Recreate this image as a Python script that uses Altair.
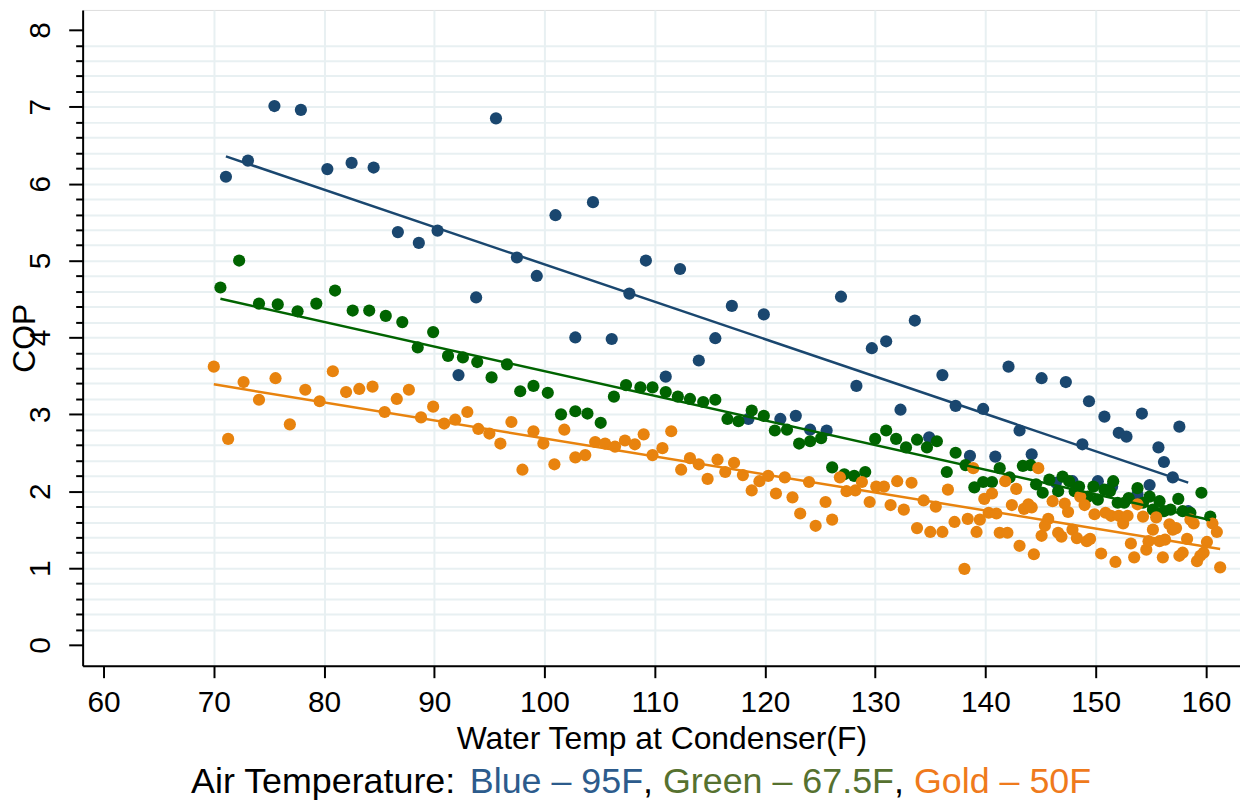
import altair as alt
import pandas as pd

# ---- data ----
blue_x = [71.1, 73.1, 75.5, 77.9, 80.3, 82.5, 84.5, 86.7, 88.6, 90.3, 92.2, 93.8, 95.6, 97.5, 99.3,
          101.0, 102.8, 104.4, 106.1, 107.7, 109.2, 111.0, 112.3, 114.0, 115.5, 117.0, 118.5, 119.9,
          121.4, 122.8, 124.1, 125.6, 126.9, 128.3, 129.7, 131.0, 132.3, 133.6, 134.9, 136.1, 137.3,
          138.6, 139.8, 140.9, 142.1, 143.1, 144.2, 145.1, 146.4, 147.3, 147.9, 148.8, 149.4, 150.2,
          150.8, 151.5, 152.1, 152.8, 153.8, 154.2, 154.9, 155.7, 156.2, 157.0, 157.6, 158.4]
blue_y = [6.09, 6.30, 7.01, 6.96, 6.19, 6.27, 6.21, 5.37, 5.23, 5.39, 3.51, 4.52, 6.85, 5.04, 4.80,
          5.59, 4.00, 5.76, 3.98, 4.57, 5.00, 3.49, 4.89, 3.70, 3.99, 4.41, 2.94, 4.30,
          2.94, 2.98, 2.80, 2.79, 4.53, 3.37, 3.86, 3.95, 3.06, 4.22, 2.70, 3.51, 3.11,
          2.46, 3.07, 2.45, 3.62, 2.79, 2.48, 3.47, 2.11, 3.42, 2.13, 2.61, 3.17, 2.13,
          2.97, 2.06, 2.76, 2.71, 1.96, 3.01, 2.08, 2.57, 2.38, 2.18, 2.84, 1.74]

green_x = [70.6, 72.3, 74.1, 75.8, 77.6, 79.3, 81.0, 82.6, 84.1, 85.6, 87.1, 88.5, 89.9, 91.25, 92.6,
           93.9, 95.2, 96.6, 97.8, 99.0, 100.3, 101.5, 102.8, 103.9, 105.1, 106.3, 107.4, 108.7,
           109.8, 111.0, 112.1, 113.2, 114.4, 115.5, 116.6, 117.6, 118.8, 119.9, 120.9, 122.0,
           123.1, 124.1, 125.1, 126.1, 127.2, 128.1, 129.1, 130.0, 131.0, 131.9, 132.8, 133.8,
           134.7, 135.6, 136.5, 137.3, 138.2, 139.0, 139.8, 140.6, 141.3, 142.2, 143.4, 144.1,
           144.6, 145.2, 145.8, 146.6, 147.0, 147.6, 148.1, 148.5, 149.3, 149.8, 150.2, 150.8,
           151.3, 151.6, 152.0, 152.6, 153.0, 153.8, 154.3, 154.9, 155.2, 155.8, 156.2, 156.8,
           157.5, 157.9, 158.6, 159.6, 160.4]
green_y = [4.65, 5.00, 4.44, 4.43, 4.34, 4.44, 4.61, 4.35, 4.35, 4.28, 4.20, 3.87, 4.07, 3.76, 3.74,
           3.68, 3.48, 3.65, 3.30, 3.37, 3.28, 3.00, 3.04, 3.01, 2.89, 3.23, 3.38, 3.35,
           3.35, 3.29, 3.23, 3.20, 3.16, 3.19, 2.94, 2.91, 3.05, 2.98, 2.79, 2.80,
           2.62, 2.65, 2.69, 2.31, 2.22, 2.20, 2.25, 2.68, 2.79, 2.68, 2.57, 2.67,
           2.57, 2.65, 2.25, 2.50, 2.34, 2.05, 2.12, 2.12, 2.30, 2.18, 2.33, 2.34,
           2.09, 1.98, 2.15, 2.00, 2.19, 2.13, 2.00, 2.06, 1.93, 2.06, 1.89, 2.02,
           2.00, 2.13, 1.85, 1.85, 1.91, 2.04, 1.85, 1.93, 1.76, 1.87, 1.74, 1.76,
           1.90, 1.74, 1.72, 1.98, 1.67]

gold_x = [70.0, 71.3, 72.7, 74.1, 75.6, 76.9, 78.3, 79.6, 80.8, 82.0, 83.2, 84.4, 85.5, 86.6, 87.7,
          88.8, 89.9, 90.9, 91.9, 93.0, 94.0, 95.0, 96.0, 97.0, 98.0, 99.0, 99.9, 100.9, 101.8,
          102.8, 103.7, 104.6, 105.5, 106.4, 107.3, 108.2, 109.0, 109.8, 110.7, 111.5, 112.4,
          113.2, 114.0, 114.8, 115.7, 116.4, 117.2, 118.0, 118.8, 119.5, 120.3, 121.0, 121.8,
          122.5, 123.2, 124.0, 124.6, 125.5, 126.1, 126.8, 127.4, 128.2, 128.8, 129.5, 130.1,
          130.8, 131.4, 132.0, 132.6, 133.3, 133.8, 134.4, 135.0, 135.5, 136.1, 136.6, 137.2,
          138.1, 138.4, 138.9, 139.2, 139.5, 139.9, 140.3, 140.6, 141.0, 141.3, 141.8, 142.0,
          142.4, 142.8, 143.1, 143.5, 143.9, 144.2, 144.4, 144.8, 145.1, 145.4, 145.7, 146.1,
          146.6, 146.9, 147.2, 147.5, 147.9, 148.3, 148.6, 149.0, 149.2, 149.5, 149.9, 150.5,
          150.9, 151.4, 151.8, 152.1, 152.5, 152.9, 153.2, 153.5, 153.8, 154.3, 154.6, 154.8,
          155.2, 155.5, 155.8, 156.1, 156.3, 156.7, 157.0, 157.3, 157.6, 157.9, 158.3, 158.6,
          158.9, 159.2, 159.5, 159.8, 160.1, 160.6, 161.0, 161.3]
gold_y = [3.62, 2.68, 3.42, 3.19, 3.47, 2.87, 3.32, 3.17, 3.56, 3.29, 3.33, 3.36, 3.03, 3.20, 3.32,
          2.96, 3.10, 2.88, 2.93, 3.03, 2.81, 2.75, 2.62, 2.90, 2.28, 2.78, 2.62, 2.35, 2.80,
          2.44, 2.47, 2.64, 2.62, 2.58, 2.66, 2.61, 2.74, 2.47, 2.56, 2.78, 2.28,
          2.43, 2.35, 2.16, 2.41, 2.25, 2.37, 2.21, 2.01, 2.13, 2.20, 1.97, 2.18,
          1.92, 1.71, 2.12, 1.55, 1.86, 1.63, 2.18, 2.00, 2.01, 2.12, 1.86, 2.06,
          2.06, 1.82, 2.13, 1.76, 2.11, 1.52, 1.88, 1.47, 1.80, 1.47, 2.02, 1.60,
          0.99, 1.64, 2.30, 1.47, 1.63, 1.90, 1.72, 1.97, 1.71, 1.46, 2.13, 1.46,
          1.82, 2.03, 1.29, 1.77, 1.83, 1.79, 1.18, 2.30, 1.42, 1.55, 1.64, 1.87,
          1.46, 1.41, 1.84, 1.73, 1.50, 1.39, 1.93, 1.82, 1.35, 1.38, 1.70, 1.19,
          1.72, 1.68, 1.08, 1.68, 1.58, 1.68, 1.32, 1.14, 1.83, 1.67, 1.24, 1.35,
          1.50, 1.66, 1.35, 1.14, 1.37, 1.57, 1.50, 1.52, 1.16, 1.20, 1.38, 1.63,
          1.58, 1.09, 1.16, 1.20, 1.34, 1.58, 1.47, 1.01]

series_names = ["Blue", "Green", "Gold"]
series_colors = ["#1a476f", "#006400", "#e8830e"]

x_ticks = [60, 70, 80, 90, 100, 110, 120, 130, 140, 150, 160]
y_ticks = [round(i * 0.2, 1) for i in range(41)]

caption_texts = ["Air Temperature: ", "Blue \u2013 95F", ", ", "Green \u2013 67.5F", ", ", "Gold \u2013 50F"]
caption_colors = ["#000000", "#2c5b8c", "#000000", "#56712f", "#000000", "#ef7a1c"]

# ---- build table ----
frames = []
for name, xs, ys in zip(series_names, [blue_x, green_x, gold_x], [blue_y, green_y, gold_y]):
    frames.append(pd.DataFrame({"temp": xs, "cop": ys, "series": name}))
df = pd.concat(frames, ignore_index=True)

FONT = "Liberation Sans"
W, H = 1163, 659

color = alt.Color("series:N", scale=alt.Scale(domain=series_names, range=series_colors), legend=None)

x_enc = alt.X(
    "temp:Q",
    scale=alt.Scale(domain=[58.1, 163.1], nice=False, zero=False),
    axis=alt.Axis(
        values=x_ticks, tickCount=200, title="Water Temp at Condenser(F)", format="d",
        tickSize=12, tickWidth=2, tickColor="black",
        domainColor="black", domainWidth=2,
        labelFont=FONT, labelFontSize=30, labelColor="black", labelPadding=10,
        titleFont=FONT, titleFontSize=32, titleFontWeight="normal", titleColor="black", titlePadding=6,
        labelFlush=False, labelOverlap=False,
        grid=True, gridWidth=2,
        gridColor={"condition": {"test": "datum.value == 60", "value": "rgba(0,0,0,0)"}, "value": "#e8f0f2"},
    ),
)

is_major = "abs(datum.value - round(datum.value)) < 0.01"
y_enc = alt.Y(
    "cop:Q",
    scale=alt.Scale(domain=[-0.27, 8.26], nice=False, zero=False),
    axis=alt.Axis(
        values=y_ticks, tickCount=200, title="COP",
        labelExpr=f"{is_major} ? format(datum.value, 'd') : ''",
        labelAngle=270, labelAlign="center", labelBaseline="bottom",
        labelFont=FONT, labelFontSize=30, labelColor="black", labelPadding=13,
        labelOverlap=False, labelFlush=False,
        tickSize={"condition": {"test": is_major, "value": 14}, "value": 7},
        tickWidth=2, tickColor="black",
        domainColor="black", domainWidth=2,
        titleFont=FONT, titleFontSize=32, titleFontWeight="normal", titleColor="black",
        titleAngle=270, titleAlign="center", titleBaseline="bottom",
        titleX=-41, titleY=H / 2,
        grid=True, gridWidth=2,
        gridColor={"condition": {"test": "datum.value < 0.01 || datum.value > 7.99", "value": "rgba(0,0,0,0)"},
                   "value": "#e8f0f2"},
    ),
)

points = alt.Chart(df).mark_circle(size=150, opacity=1).encode(x=x_enc, y=y_enc, color=color)

fits = alt.Chart(df).transform_regression(
    "temp", "cop", groupby=["series"]
).mark_line(strokeWidth=2.5).encode(x="temp:Q", y="cop:Q", color=color)

# ---- caption made of coloured text pieces ----
ARIAL = {'A': 667, 'i': 222, 'r': 333, ' ': 278, 'T': 611, 'e': 556, 'm': 833, 'p': 556, 'a': 556,
         't': 278, 'u': 556, ':': 278, 'B': 667, 'l': 222, '\u2013': 556, '9': 556, '5': 556, 'F': 611,
         ',': 278, 'G': 778, 'n': 556, '6': 556, '7': 556, '.': 278, 'o': 556, 'd': 556, '0': 556}
CAP_SIZE = 36
cap_x = 109  # relative to plot origin
cap_y = 787
caption_layers = []
for txt, col in zip(caption_texts, caption_colors):
    caption_layers.append(
        alt.Chart(alt.Data(values=[{}])).mark_text(
            align="left", baseline="alphabetic", font=FONT, fontSize=CAP_SIZE, color=col
        ).encode(x=alt.value(cap_x), y=alt.value(cap_y), text=alt.value(txt))
    )
    cap_x += sum(ARIAL.get(c, 556) for c in txt) / 1000 * CAP_SIZE

chart = alt.layer(points, fits, *caption_layers).properties(
    width=W, height=H,
    autosize=alt.AutoSizeParams(type="none"),
    padding={"left": 75, "top": 0, "right": 0, "bottom": 137},
).configure_view(stroke=None).configure(background="white")

chart.save("out.html", embed_options={"renderer": "svg", "actions": False})
